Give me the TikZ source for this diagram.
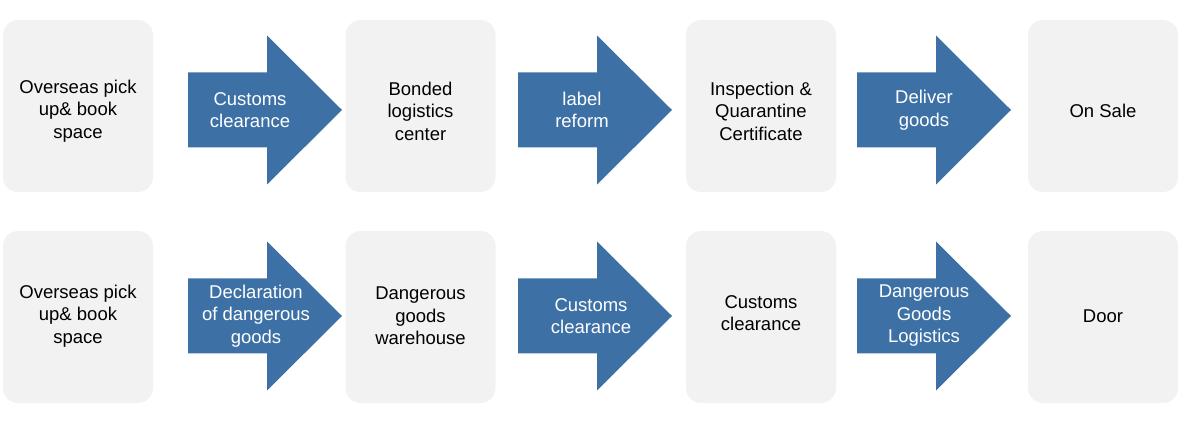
\documentclass[tikz,border=0pt]{standalone}
\usepackage{fontspec}
\setmainfont{Liberation Sans}
\definecolor{boxgray}{HTML}{F2F2F2}
\definecolor{arrowblue}{HTML}{3D71A6}
\tikzset{
  stepbox/.style={fill=boxgray, rounded corners=15pt, minimum width=150pt, minimum height=172pt,
    inner sep=0pt},
  boxtext/.style={inner sep=0pt, align=center, font=\fontsize{18.5}{22.5}\selectfont},
  arrowtext/.style={text=white, inner sep=0pt, align=center, font=\fontsize{18.5}{22.5}\selectfont}
}
% #1 left x, #2 centre y, #3 name, #4 text offset, #5 text
\newcommand\blockarrow[5]{%
  \fill[arrowblue] (#1,#2-37.5) -- (#1+79,#2-37.5) -- (#1+79,#2-74.5) -- (#1+154,#2)
    -- (#1+79,#2+74.5) -- (#1+79,#2+37.5) -- (#1,#2+37.5) -- cycle;
  \node[arrowtext] (#3) at (#1+#4,#2) {#5};}
\begin{document}
\begin{tikzpicture}[x=1pt,y=1pt]
\useasboundingbox (0,0) rectangle (1180,422);
% row 1
\node[stepbox] (b11) at (78,316) {};
\node[stepbox] (b12) at (420.5,316) {};
\node[stepbox] (b13) at (761,316) {};
\node[stepbox] (b14) at (1103,316) {};
\node[boxtext] (t11) at ([yshift=-5pt]b11.center) {Overseas pick\\up\& book\\space};
\node[boxtext] (t12) at ([yshift=-5pt]b12.center) {Bonded\\logistics\\center};
\node[boxtext] (t13) at ([yshift=-5pt]b13.center) {Inspection \&\\Quarantine\\Certificate};
\node[boxtext] (t14) at ([yshift=-5pt]b14.center) {On Sale};
\blockarrow{188}{312}{a11}{62}{Customs\\clearance}
\blockarrow{518}{312}{a12}{64}{label\\reform}
\blockarrow{857}{312}{a13}{67}{Deliver\\goods}
% row 2
\node[stepbox] (b21) at (78,105) {};
\node[stepbox] (b22) at (420.5,105) {};
\node[stepbox] (b23) at (761,105) {};
\node[stepbox] (b24) at (1103,105) {};
\node[boxtext] (t21) at ([yshift=1pt]b21.center) {Overseas pick\\up\& book\\space};
\node[boxtext] (t22) at ([yshift=1pt]b22.center) {Dangerous\\goods\\warehouse};
\node[boxtext] (t23) at ([yshift=4pt]b23.center) {Customs\\clearance};
\node[boxtext] (t24) at ([yshift=1pt]b24.center) {Door};
\blockarrow{188}{106}{a21}{68}{Declaration\\of dangerous\\goods}
\blockarrow{518}{106}{a22}{73}{Customs\\clearance}
\blockarrow{857}{106}{a23}{67}{Dangerous\\Goods\\Logistics}
\end{tikzpicture}
\end{document}
